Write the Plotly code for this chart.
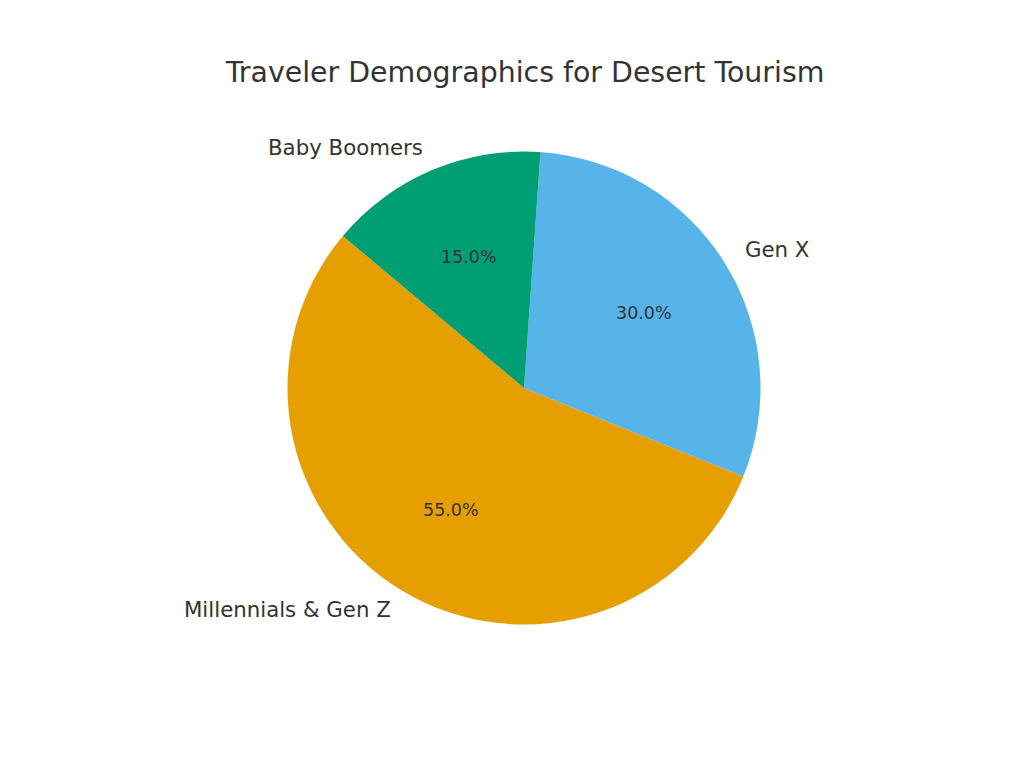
import math
import plotly.graph_objects as go

# Data
labels = ['Millennials & Gen Z', 'Gen X', 'Baby Boomers']
shares = [55, 30, 15]
colors = ['#E69F00', '#56B4E9', '#009E73']
title = 'Traveler Demographics for Desert Tourism'

# Layout (pixels)
W, H = 1024, 768
cx, cy, r = 524, 388, 236.5
start_angle = 140  # degrees, counterclockwise from 3 o'clock
text_color = '#333333'
font = 'DejaVu Sans'

# plotly puts the end of the first slice at (90 - rotation) degrees
first_end = start_angle + 360 * shares[0] / sum(shares)
rotation = ((90 - first_end + 180) % 360) - 180

fig = go.Figure(go.Pie(
    labels=labels,
    values=shares,
    marker=dict(colors=colors, line=dict(width=0)),
    sort=False,
    direction='counterclockwise',
    rotation=rotation,
    textinfo='none',
    hoverinfo='label+percent',
    domain=dict(x=[(cx - r) / W, (cx + r) / W],
                y=[1 - (cy + r) / H, 1 - (cy - r) / H]),
    showlegend=False,
))

# Labels outside at 1.1 r, percentages inside at 0.6 r (computed from the data)
total = sum(shares)
angle = start_angle
annotations = []
for name, v in zip(labels, shares):
    span = 360 * v / total
    mid = math.radians(angle + span / 2)
    angle += span
    right = math.cos(mid) > 0
    lx = cx + 1.1 * r * math.cos(mid) + (-1 if right else 2)
    ly = cy - 1.1 * r * math.sin(mid) - 1
    annotations.append(dict(
        x=lx / W, y=1 - ly / H, xref='paper', yref='paper',
        text=name, showarrow=False, borderpad=0,
        xanchor='left' if right else 'right', yanchor='middle',
        font=dict(family=font, size=21.3, color=text_color)))
    px_ = cx + 0.6 * r * math.cos(mid)
    py_ = cy - 0.6 * r * math.sin(mid)
    annotations.append(dict(
        x=px_ / W, y=1 - py_ / H, xref='paper', yref='paper',
        text=f'{100 * v / total:.1f}%', showarrow=False, borderpad=0,
        xanchor='center', yanchor='middle',
        font=dict(family=font, size=17.5, color=text_color)))

fig.update_layout(
    width=W, height=H,
    margin=dict(l=0, r=0, t=0, b=0),
    paper_bgcolor='white',
    plot_bgcolor='white',
    title=dict(text=title, x=525 / W, xanchor='center',
               y=1 - 72 / H, yanchor='middle',
               font=dict(family=font, size=28.4, color=text_color)),
    annotations=annotations,
)

fig.write_html('out.html', config={'displayModeBar': False},
               post_script="document.body.style.margin = '0';")
